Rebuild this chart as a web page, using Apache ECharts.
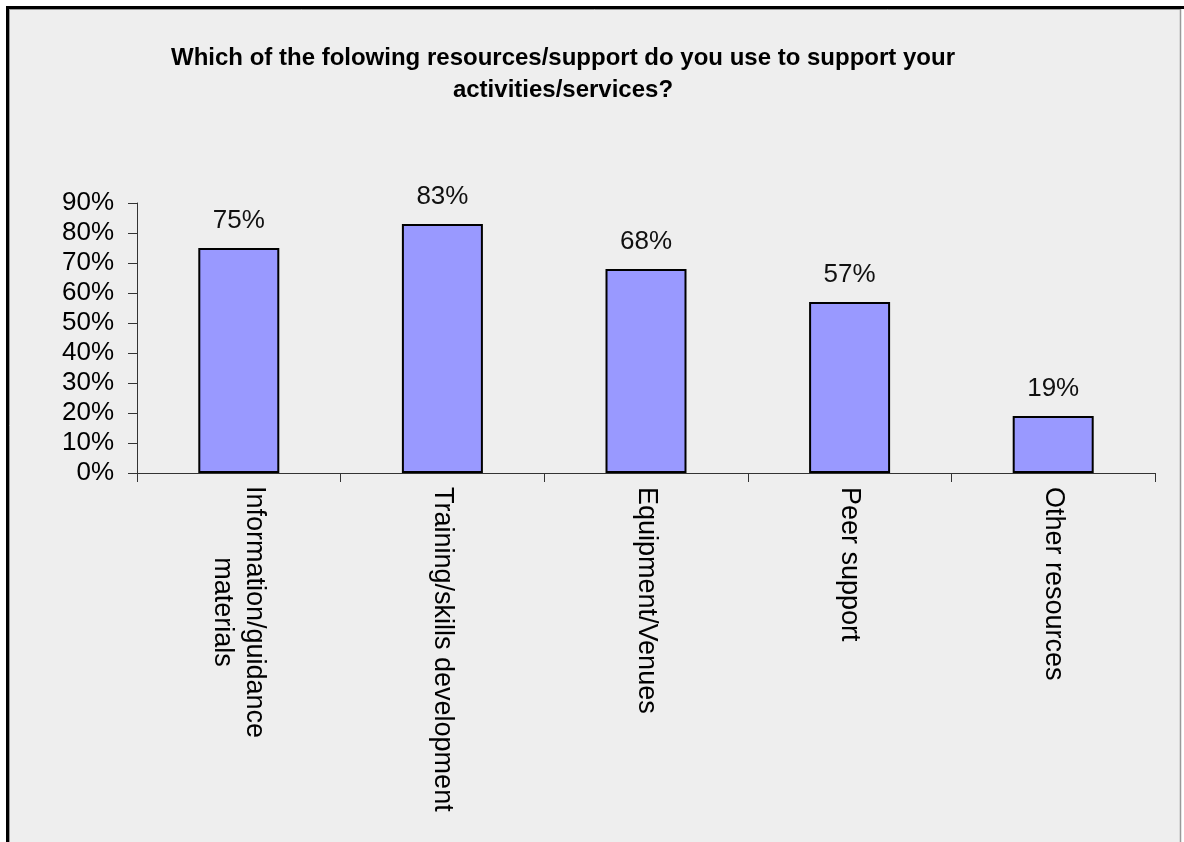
<!DOCTYPE html>
<html>
<head>
<meta charset="utf-8">
<script src="https://cdn.jsdelivr.net/npm/echarts@6/dist/echarts.min.js"></script>
<style>
html,body{margin:0;padding:0;background:#fff;}
#c{width:1184px;height:842px;}
</style>
</head>
<body>
<div id="c"></div>
<script>
const titleText = 'Which of the folowing resources/support do you use to support your\nactivities/services?';
const categories = ['Information/guidance\nmaterials', 'Training/skills development', 'Equipment/Venues', 'Peer support', 'Other resources'];
const values = [75, 83, 68, 57, 19];
const yMin = 0, yMax = 90, yStep = 10;

const FONT = 'Arial, "Liberation Sans", sans-serif';
const chart = echarts.init(document.getElementById('c'));
chart.setOption({
  backgroundColor: '#ffffff',
  animation: false,
  graphic: [
    { type: 'rect', z: -10, shape: { x: 6, y: 6, width: 1175, height: 836 }, style: { fill: '#eeeeee' } },
    { type: 'line', z: -9, shape: { x1: 7.5, y1: 6, x2: 7.5, y2: 842 }, style: { stroke: '#000', lineWidth: 3 } },
    { type: 'line', z: -9, shape: { x1: 6, y1: 7.5, x2: 1184, y2: 7.5 }, style: { stroke: '#000', lineWidth: 3 } },
    { type: 'line', z: -9, shape: { x1: 9.5, y1: 9, x2: 9.5, y2: 842 }, style: { stroke: '#999', lineWidth: 1 } },
    { type: 'line', z: -9, shape: { x1: 9, y1: 9.5, x2: 1180, y2: 9.5 }, style: { stroke: '#999', lineWidth: 1 } },
    { type: 'line', z: -9, shape: { x1: 1180.5, y1: 9, x2: 1180.5, y2: 842 }, style: { stroke: '#999', lineWidth: 1.5 } }
  ],
  title: {
    text: titleText,
    left: 558,
    top: 37,
    textAlign: 'center',
    textStyle: { fontFamily: FONT, fontWeight: 'bold', fontSize: 24, lineHeight: 32, color: '#000' }
  },
  grid: { left: 137, right: 29, top: 203, bottom: 369, containLabel: false },
  xAxis: {
    type: 'category',
    data: categories,
    axisLine: { lineStyle: { color: '#333', width: 1 } },
    axisTick: { show: true, alignWithLabel: false, length: 9, lineStyle: { color: '#333' } },
    axisLabel: {
      rotate: -90,
      interval: 0,
      margin: 14,
      fontFamily: FONT,
      fontSize: 27,
      lineHeight: 32,
      color: '#000',
      formatter: function (v) {
        if (v.indexOf('\n') >= 0) {
          return v.split('\n').map(function (s) { return '{w|' + s + '}'; }).join('\n');
        }
        return v;
      },
      rich: { w: { width: 250, align: 'center', fontFamily: FONT, fontSize: 27, lineHeight: 32, color: '#000' } }
    }
  },
  yAxis: {
    type: 'value',
    min: yMin, max: yMax, interval: yStep,
    axisLine: { show: true, lineStyle: { color: '#333', width: 1 } },
    axisTick: { show: true, length: 9, lineStyle: { color: '#333' } },
    splitLine: { show: false },
    axisLabel: { formatter: '{value}%', margin: 23, fontFamily: FONT, fontSize: 26, color: '#000' }
  },
  series: [{
    type: 'bar',
    data: values,
    barWidth: 81,
    itemStyle: { color: '#9999ff', borderColor: '#000', borderWidth: 2 },
    label: {
      show: true, position: 'top', distance: 14,
      formatter: '{c}%', fontFamily: FONT, fontSize: 26, color: '#111'
    }
  }]
});
</script>
</body>
</html>
